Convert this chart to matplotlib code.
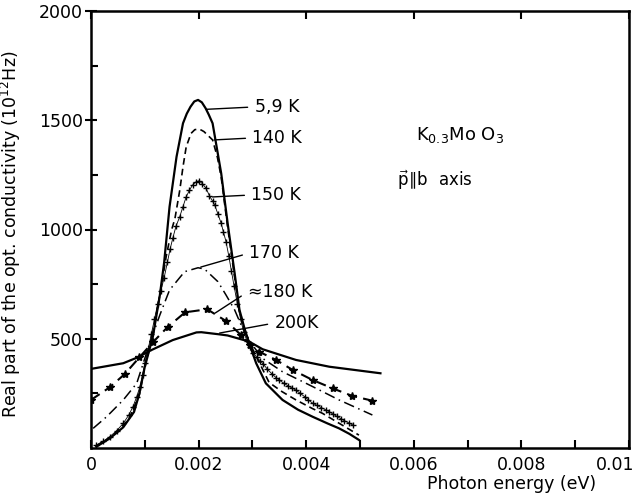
import numpy as np
import matplotlib
matplotlib.use("Agg")
import matplotlib.pyplot as plt
from matplotlib.transforms import ScaledTranslation

# energies in eV, conductivity in 10^12 Hz
x_59 = [0.0001, 0.00035, 0.0006, 0.0008, 0.0009, 0.001, 0.00115, 0.00128, 0.00136,
        0.00146, 0.00159, 0.00171, 0.00178, 0.00185, 0.00192, 0.00199, 0.00206, 0.00213,
        0.00219, 0.00226, 0.00242, 0.00254, 0.00267, 0.00276, 0.00285, 0.00294, 0.00307,
        0.00325, 0.00356, 0.00385, 0.00412, 0.0044, 0.00461, 0.0048, 0.00498]
y_59 = [6, 44, 95, 165, 250, 372, 509, 700, 850, 1104, 1333, 1486, 1530, 1562, 1586,
        1593, 1582, 1555, 1525, 1486, 1257, 1028, 800, 632, 550, 479, 388, 296, 220, 175,
        143, 112, 90, 65, 37]

x_140 = [0.0001, 0.0004, 0.0007, 0.0009, 0.001, 0.0011, 0.0012, 0.0013, 0.0014, 0.0015,
         0.00156, 0.00165, 0.00171, 0.00177, 0.00186, 0.00193, 0.00199, 0.00205, 0.0021,
         0.00226, 0.00235, 0.00242, 0.00254, 0.00267, 0.00276, 0.00285, 0.00294, 0.003,
         0.00315, 0.00331, 0.00355, 0.00381, 0.00412, 0.0043, 0.0046, 0.00498]
y_140 = [10, 55, 130, 245, 372, 470, 590, 730, 880, 1000, 1050, 1180, 1287, 1379, 1440,
         1457, 1459, 1455, 1448, 1410, 1330, 1240, 1010, 780, 625, 545, 485, 455, 380,
         300, 258, 220, 180, 159, 115, 59]

x_150 = [0.0001, 0.00022, 0.00035, 0.00048, 0.0006, 0.0007, 0.00078, 0.00085, 0.00091,
         0.00096, 0.001, 0.00106, 0.00112, 0.00118, 0.00124, 0.0013, 0.00136, 0.00142,
         0.00147, 0.00152, 0.00158, 0.00165, 0.00171, 0.00177, 0.00183, 0.00189, 0.00195,
         0.00201, 0.00207, 0.00214, 0.0022, 0.00226, 0.0023, 0.00236, 0.00242, 0.00246,
         0.00251, 0.00256, 0.00261, 0.00266, 0.00272, 0.00278, 0.00284, 0.0029, 0.00296,
         0.00302, 0.00308, 0.00314, 0.0032, 0.00328, 0.00336, 0.00344, 0.0035, 0.00358,
         0.00366, 0.00374, 0.00381, 0.00389, 0.00397, 0.00404, 0.00412, 0.0042, 0.00428,
         0.00436, 0.00443, 0.0045, 0.00457, 0.00464, 0.00471, 0.00479, 0.00487]
y_150 = [14, 30, 52, 80, 113, 150, 189, 235, 281, 335, 388, 450, 520, 590, 660, 720, 780,
         850, 910, 960, 1015, 1059, 1105, 1150, 1180, 1204, 1218, 1223, 1210, 1188, 1155,
         1130, 1112, 1070, 1028, 990, 944, 880, 810, 740, 660, 590, 530, 490, 460, 435,
         415, 400, 385, 360, 340, 322, 311, 297, 285, 274, 265, 250, 235, 220, 205, 195,
         185, 175, 166, 155, 145, 135, 125, 115, 105]

x_170 = [0.00004, 0.00029, 0.0006, 0.00085, 0.001, 0.00106, 0.00128, 0.00146, 0.00174,
         0.00199, 0.00211, 0.00236, 0.00251, 0.00267, 0.00279, 0.00295, 0.00305, 0.00319,
         0.00356, 0.00412, 0.00461, 0.00523]
y_170 = [90, 143, 220, 296, 410, 456, 609, 723, 807, 825, 819, 761, 700, 632, 563, 490,
         455, 410, 349, 281, 220, 151]

x_180 = [0.0, 0.00035, 0.00063, 0.0009, 0.00115, 0.00143, 0.00175, 0.00216, 0.00251,
         0.00279, 0.00296, 0.00313, 0.00344, 0.00375, 0.00412, 0.00449, 0.00486, 0.00522]
y_180 = [220, 278, 339, 415, 484, 555, 621, 635, 581, 517, 470, 440, 403, 357, 311, 273,
         238, 217]

x_200 = [0.0, 0.0006, 0.0009, 0.00106, 0.00152, 0.00196, 0.00205, 0.00239, 0.00254,
         0.00294, 0.00319, 0.00381, 0.00443, 0.00538]
y_200 = [362, 388, 418, 441, 494, 529, 530, 520, 515, 487, 452, 403, 372, 342]

curve_labels = ["5,9 K", "140 K", "150 K", "170 K", "\u2248180 K", "200K"]
label_from = [(0.00214, 1550), (0.00229, 1410), (0.00226, 1149), (0.00204, 828),
              (0.00231, 618), (0.00239, 526)]
label_at = [(0.00304, 1561), (0.0030, 1419), (0.00298, 1158), (0.00294, 892),
            (0.00291, 714), (0.00341, 572)]

xtick_vals = [0, 0.002, 0.004, 0.006, 0.008, 0.01]
xtick_text = ["0", "0.002", "0.004", "0.006", "0.008", "0.01"]
ytick_vals = [500, 1000, 1500, 2000]

plt.rcParams['font.family'] = ['DejaVu Sans']

fig = plt.figure(figsize=(6.36, 4.95), dpi=100)
ax = fig.add_axes([91 / 636, 1 - 448 / 495, 538 / 636, 437 / 495])

lw = 1.6
ax.plot(x_59, y_59, color="black", lw=lw)
ax.plot(x_140, y_140, color="black", lw=1.2, ls=(0, (4, 2.5)))
ax.plot(x_150, y_150, color="black", lw=0.6, marker="+", ms=4.5, mew=1.0)
ax.plot(x_170, y_170, color="black", lw=1.1, ls=(0, (7, 3, 1, 3)))
ax.plot(x_180, y_180, color="black", lw=1.5, ls=(0, (5, 3)), marker="*", ms=6)
ax.plot(x_200, y_200, color="black", lw=lw)

for lab, p0, p1 in zip(curve_labels, label_from, label_at):
    ax.annotate(lab, xy=p0, xytext=p1, ha="left", va="center", fontsize=12.5,
                arrowprops=dict(arrowstyle="-", lw=1.0, color="black",
                                shrinkA=3, shrinkB=0, relpos=(0, 0.5)))

ax.text(0.00604, 1432, r"K$_{0.3}$Mo O$_3$", fontsize=13, va="center", ha="left")
ax.text(0.00569, 1227, r"$\vec{\mathrm{p}}\!\parallel\!$b  axis", fontsize=12,
        va="center", ha="left")

ax.set_xlim(0, 0.01)
ax.set_ylim(0, 2000)
ax.set_xticks(xtick_vals)
ax.set_xticklabels(xtick_text)
ax.set_xticks(np.arange(0.001, 0.01, 0.002), minor=True)
ax.set_yticks(ytick_vals)
ax.set_yticks(np.arange(250, 2000, 250), minor=True)

ax.tick_params(axis="x", which="major", direction="in", length=6, width=1.5,
               labelsize=12.5, pad=6, top=True)
ax.tick_params(axis="x", which="minor", direction="in", length=6, width=1.5, top=False)
ax.tick_params(axis="y", which="major", direction="inout", length=8, width=1.5,
               labelsize=12.5, pad=2)
ax.tick_params(axis="y", which="minor", direction="in", length=5, width=1.5)

# last x label sits at the very edge, pull it in so it stays inside
last = ax.get_xticklabels()[-1]
last.set_transform(last.get_transform() + ScaledTranslation(-10 / 72, 0, fig.dpi_scale_trans))

for s in ax.spines.values():
    s.set_linewidth(1.8)

ax.set_ylabel(r"Real part of the opt. conductivity (10$^{12}$Hz)", fontsize=12.5)
ax.yaxis.set_label_coords(-0.127, 0.49)
fig.text(512 / 636, 1 - 484 / 495, "Photon energy (eV)", fontsize=12.5,
         ha="center", va="center")

fig.savefig("out.png", dpi=100)
